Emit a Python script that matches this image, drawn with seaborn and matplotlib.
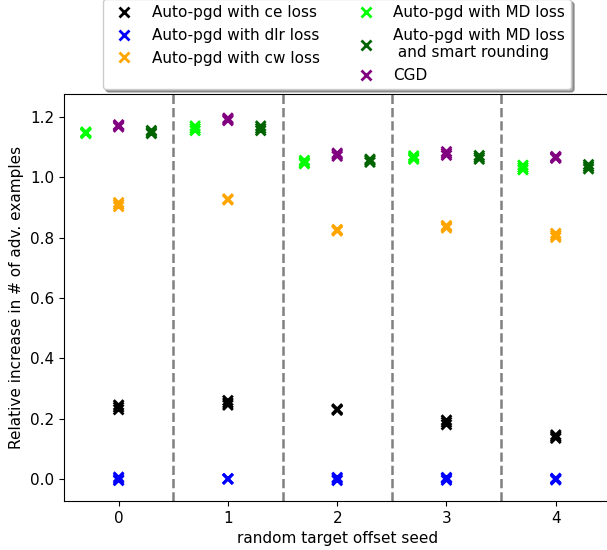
import matplotlib
matplotlib.use("Agg")
import matplotlib.pyplot as plt
import seaborn as sns
import pandas as pd

plt.rcParams["font.size"] = 11

seeds = [0, 1, 2, 3, 4]
methods = [
    "Auto-pgd with ce loss",
    "Auto-pgd with dlr loss",
    "Auto-pgd with cw loss",
    "Auto-pgd with MD loss",
    "Auto-pgd with MD loss\n and smart rounding",
    "CGD",
]
colors = ["black", "blue", "orange", "lime", "darkgreen", "purple"]
offsets = [0.0, 0.0, 0.0, -0.3, 0.3, 0.0]

# values per method, per seed, 3 runs each
ce = [[0.230, 0.238, 0.245], [0.245, 0.252, 0.260], [0.228, 0.232, 0.230],
      [0.180, 0.188, 0.195], [0.135, 0.140, 0.146]]
dlr = [[-0.005, 0.000, 0.006], [0.000, 0.000, 0.001], [-0.005, 0.000, 0.005],
       [-0.004, 0.001, 0.005], [-0.003, 0.000, 0.002]]
cw = [[0.903, 0.910, 0.916], [0.925, 0.927, 0.928], [0.822, 0.825, 0.827],
      [0.832, 0.836, 0.840], [0.801, 0.807, 0.814]]
md = [[1.145, 1.148, 1.150], [1.155, 1.162, 1.170], [1.045, 1.050, 1.056],
      [1.060, 1.065, 1.071], [1.025, 1.032, 1.040]]
md_smart = [[1.145, 1.150, 1.155], [1.155, 1.162, 1.170], [1.050, 1.055, 1.060],
            [1.060, 1.066, 1.072], [1.028, 1.035, 1.042]]
cgd = [[1.167, 1.171, 1.174], [1.188, 1.192, 1.196], [1.070, 1.075, 1.080],
       [1.073, 1.079, 1.085], [1.063, 1.066, 1.069]]
all_vals = [ce, dlr, cw, md, md_smart, cgd]

rows = []
for m, off, vals in zip(methods, offsets, all_vals):
    for s, runs in zip(seeds, vals):
        for v in runs:
            rows.append({"method": m, "seed": s, "pos": s + off, "value": v})
df = pd.DataFrame(rows)

fig = plt.figure(figsize=(6.07, 5.5), dpi=100)
ax = fig.add_axes([0.1054, 0.0891, 1.0056 - 0.1054, 0.829 - 0.0891])

sns.scatterplot(data=df, x="pos", y="value", hue="method", hue_order=methods,
                palette=colors, marker="x", s=50, linewidth=2.0, ax=ax,
                legend=True)

for b in [0.5, 1.5, 2.5, 3.5]:
    ax.axvline(b, color="gray", linestyle="--", linewidth=1.8, zorder=0)

ax.set_xlim(-0.5, 4.5)
ax.set_ylim(-0.073, 1.276)
ax.set_xticks(seeds)
ax.set_xticklabels([str(s) for s in seeds])
ax.set_yticks([0.0, 0.2, 0.4, 0.6, 0.8, 1.0, 1.2])
ax.set_xlabel("random target offset seed")
ax.set_ylabel("Relative increase in # of adv. examples")

handles, labels = ax.get_legend_handles_labels()
ax.legend(handles, labels, ncol=2, loc="lower center",
          bbox_to_anchor=(0.5, 1.012), shadow=True, fancybox=True,
          borderaxespad=0.0, framealpha=1.0)

fig.savefig("out.png", dpi=100)
